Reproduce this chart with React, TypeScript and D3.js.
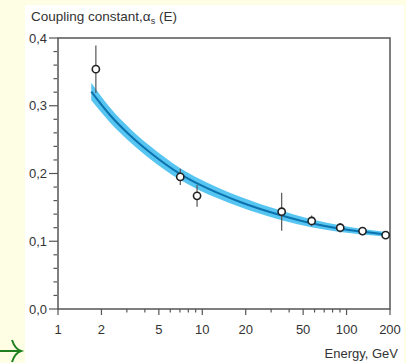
import React, { useEffect, useRef } from "react";
import * as d3 from "d3";

// curve (energy in GeV, alpha_s)
const curveEnergy = [1.7, 2.3, 3.15, 4.35, 7, 9.6, 12.9, 18.3, 35.5, 57, 90, 129, 200];
const curveAlpha = [0.321, 0.286, 0.2565, 0.231, 0.1995, 0.1835, 0.171, 0.158, 0.138, 0.1265, 0.1185, 0.114, 0.1095];
const curveErr = [0.013, 0.011, 0.01, 0.0095, 0.0088, 0.0085, 0.008, 0.0075, 0.007, 0.006, 0.005, 0.004, 0.0033];

// measurements
const pointEnergy = [1.83, 7.04, 9.2, 35.5, 57.3, 90.4, 129, 186.6];
const pointAlpha = [0.354, 0.195, 0.167, 0.1436, 0.13, 0.12, 0.115, 0.109];
const pointErr = [0.035, 0.012, 0.016, 0.028, 0.008, 0.007, 0.006, 0.003];

const xMajor = [1, 2, 5, 10, 20, 50, 100, 200];
const xMinor = [3, 4, 6, 7, 8, 9, 30, 40, 60, 70, 80, 90];
const yMajor = [0, 0.1, 0.2, 0.3, 0.4];
const yMinor = [0.02, 0.04, 0.06, 0.08, 0.12, 0.14, 0.16, 0.18, 0.22, 0.24, 0.26, 0.28, 0.32, 0.34, 0.36, 0.38];

export default function App() {
	const svgRef = useRef(null);

	useEffect(() => {
		const W = 406;
		const H = 363;
		const margin = { top: 38, right: 16, bottom: 54, left: 58 };
		const width = W - margin.left - margin.right;
		const height = H - margin.top - margin.bottom;

		const root = d3.select(svgRef.current).attr("width", W).attr("height", H);
		const font = "'Liberation Sans', Arial, sans-serif";

		// backgrounds
		root.append("rect").attr("width", W).attr("height", H).attr("fill", "#fefee4");
		root.append("rect").attr("x", 25).attr("y", 5).attr("width", 379).attr("height", H - 5).attr("fill", "#ffffff");

		// green arrow bottom-left
		root.append("path")
			.attr("d", "M0,351 L21,351 M12,340 Q15,349 21,351 Q15,353 12,362")
			.attr("stroke", "#1f7f1f")
			.attr("stroke-width", 2)
			.attr("fill", "none");

		const svg = root.append("g").attr("transform", `translate(${margin.left},${margin.top})`);

		const x = d3.scaleLog().domain([1, 200]).range([0, width]);
		const y = d3.scaleLinear().domain([0, 0.4]).range([height, 0]);

		const curve = curveEnergy.map((e, i) => ({ e, a: curveAlpha[i], d: curveErr[i] }));

		// uncertainty band
		const band = d3
			.area()
			.x((d) => x(d.e))
			.y0((d) => y(d.a - d.d))
			.y1((d) => y(d.a + d.d))
			.curve(d3.curveMonotoneX);
		svg.append("path").datum(curve).attr("d", band).attr("fill", "#45bff0").attr("opacity", 0.9);

		// central line
		const line = d3
			.line()
			.x((d) => x(d.e))
			.y((d) => y(d.a))
			.curve(d3.curveMonotoneX);
		svg.append("path")
			.datum(curve)
			.attr("d", line)
			.attr("fill", "none")
			.attr("stroke", "#0b72ad")
			.attr("stroke-width", 2);

		// frame
		const axisColor = "#555";
		svg.append("rect")
			.attr("width", width)
			.attr("height", height)
			.attr("fill", "none")
			.attr("stroke", axisColor)
			.attr("stroke-width", 1.5);

		// x ticks
		xMajor.forEach((t) => {
			svg.append("line").attr("x1", x(t)).attr("x2", x(t)).attr("y1", height).attr("y2", height + 6).attr("stroke", axisColor).attr("stroke-width", 1.2);
			svg.append("text")
				.attr("x", x(t))
				.attr("y", height + 25)
				.attr("text-anchor", "middle")
				.attr("font-family", font)
				.attr("font-size", 13)
				.attr("fill", "#333")
				.text(t);
		});
		xMinor.forEach((t) => {
			svg.append("line").attr("x1", x(t)).attr("x2", x(t)).attr("y1", height).attr("y2", height + 3.5).attr("stroke", axisColor).attr("stroke-width", 1.2);
		});

		// y ticks
		yMajor.forEach((t) => {
			svg.append("line").attr("x1", -9).attr("x2", 0).attr("y1", y(t)).attr("y2", y(t)).attr("stroke", axisColor).attr("stroke-width", 1.2);
			svg.append("text")
				.attr("x", -11)
				.attr("y", y(t))
				.attr("dy", "0.35em")
				.attr("text-anchor", "end")
				.attr("font-family", font)
				.attr("font-size", 13)
				.attr("fill", "#333")
				.text(t.toFixed(1).replace(".", ","));
		});
		yMinor.forEach((t) => {
			svg.append("line").attr("x1", -4.5).attr("x2", -1).attr("y1", y(t)).attr("y2", y(t)).attr("stroke", axisColor).attr("stroke-width", 1.2);
		});

		// error bars and points
		pointEnergy.forEach((e, i) => {
			svg.append("line")
				.attr("x1", x(e))
				.attr("x2", x(e))
				.attr("y1", y(pointAlpha[i] - pointErr[i]))
				.attr("y2", y(pointAlpha[i] + pointErr[i]))
				.attr("stroke", "#555")
				.attr("stroke-width", 1.2);
		});
		pointEnergy.forEach((e, i) => {
			svg.append("circle")
				.attr("cx", x(e))
				.attr("cy", y(pointAlpha[i]))
				.attr("r", 3.6)
				.attr("fill", "#fff")
				.attr("stroke", "#222")
				.attr("stroke-width", 1.6);
		});

		// title
		const title = root.append("text")
			.attr("x", 31)
			.attr("y", 21)
			.attr("font-family", font)
			.attr("font-size", 13.5)
			.attr("fill", "#333");
		title.append("tspan").text("Coupling constant,α");
		title.append("tspan").attr("font-size", 9).attr("dy", 3).text("s");
		title.append("tspan").attr("dy", -3).text(" (E)");

		// x axis label
		root.append("text")
			.attr("x", 398)
			.attr("y", 358)
			.attr("text-anchor", "end")
			.attr("font-family", font)
			.attr("font-size", 13)
			.attr("fill", "#333")
			.text("Energy, GeV");

		return () => {
			d3.select(svgRef.current).selectAll("*").remove();
		};
	}, []);

	return (
		<div style={{ position: "absolute", left: 0, top: 0 }}>
			<svg ref={svgRef} style={{ display: "block" }}></svg>
		</div>
	);
}
